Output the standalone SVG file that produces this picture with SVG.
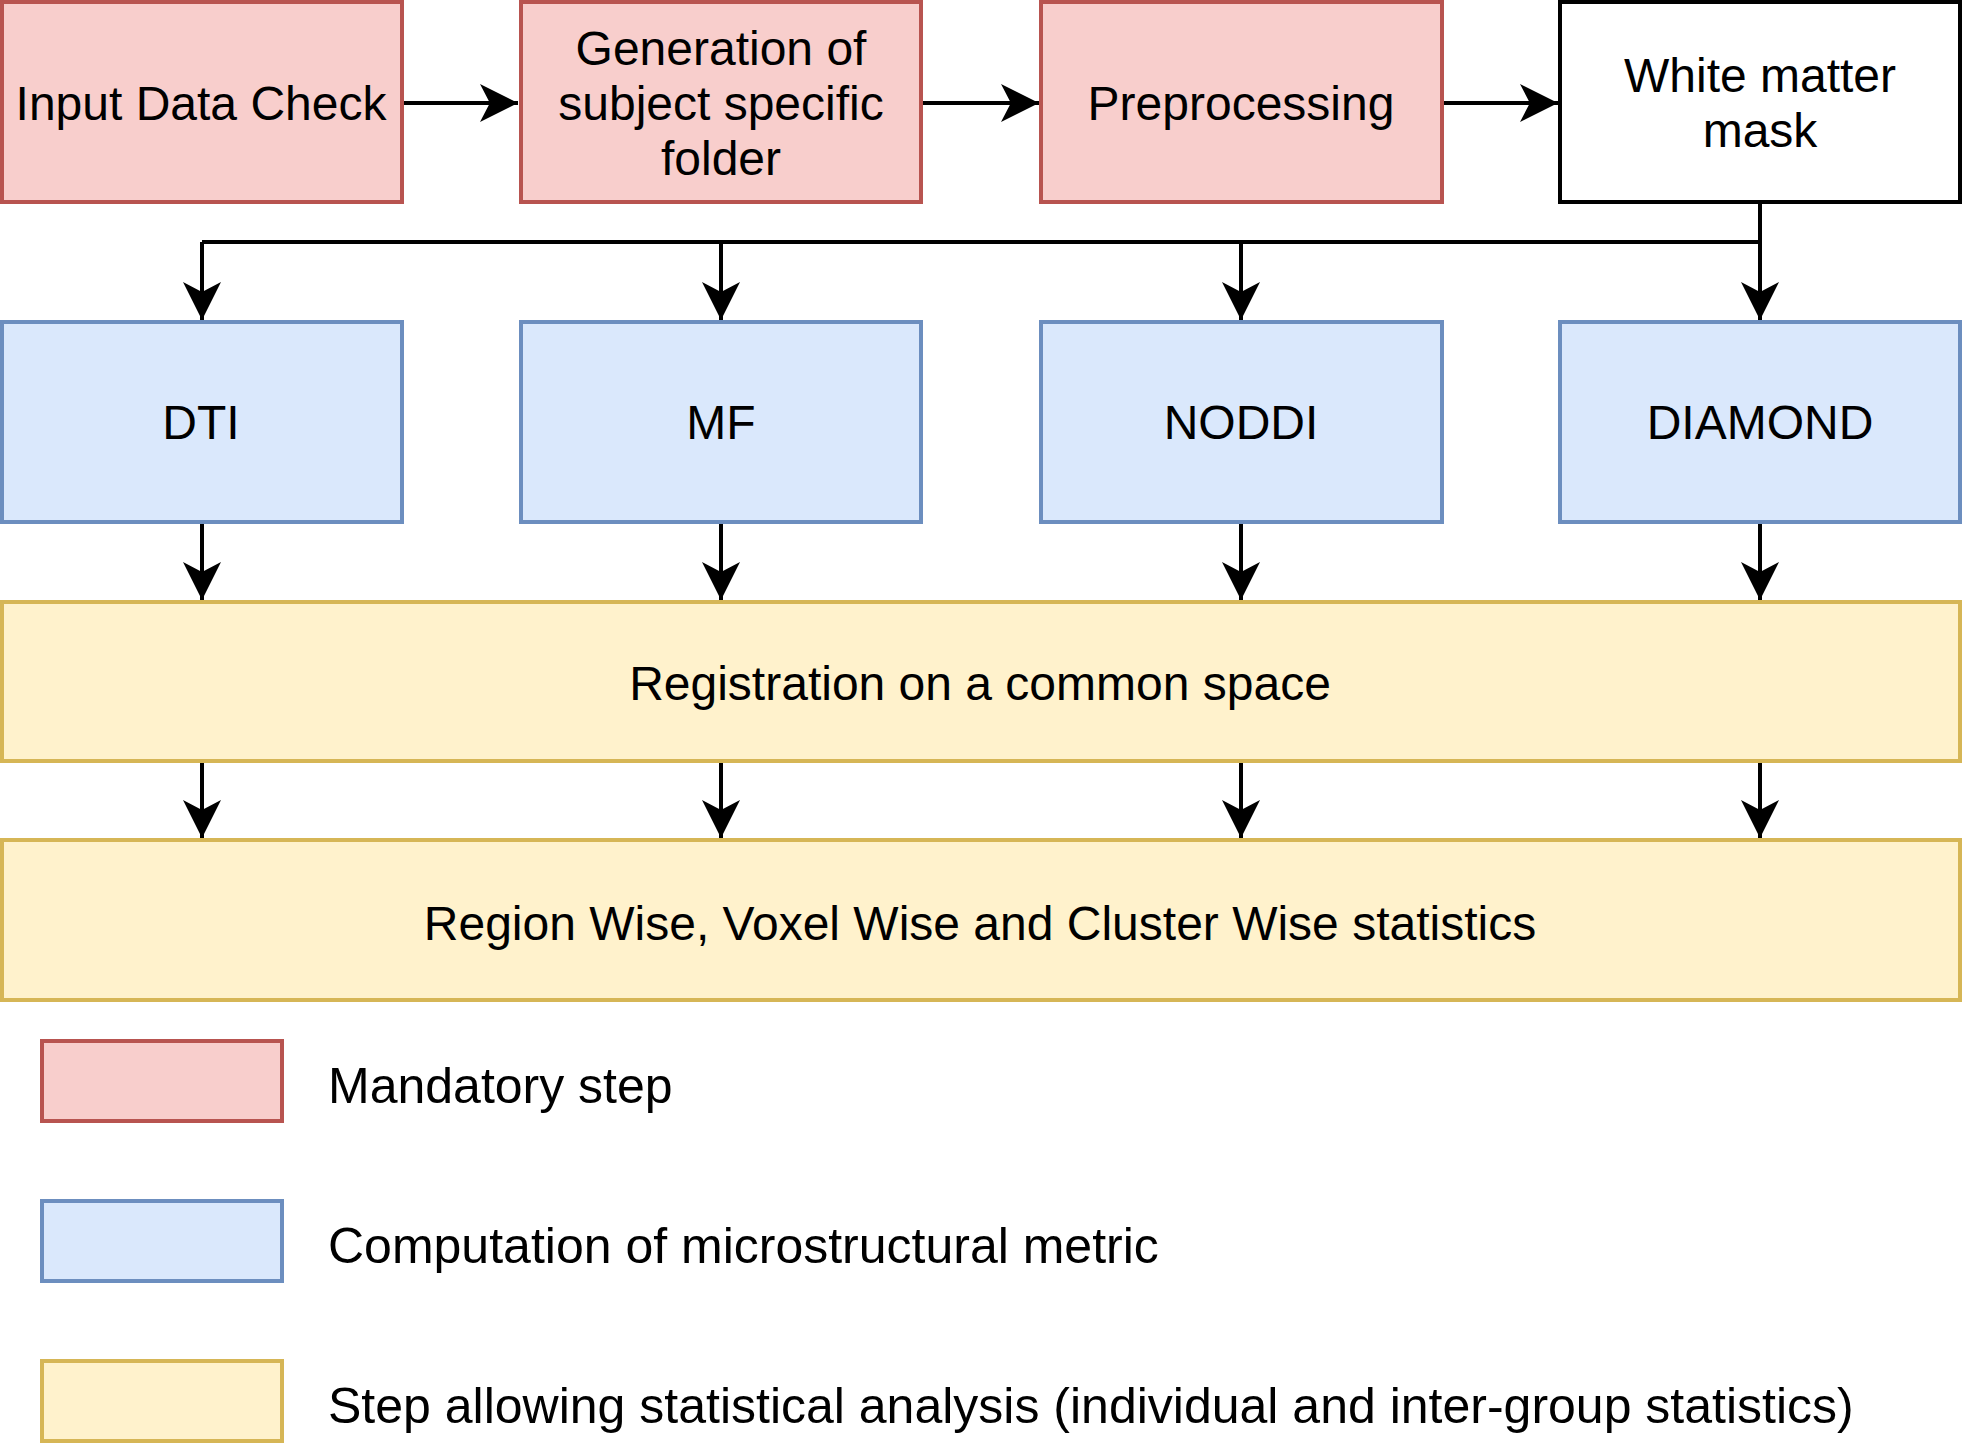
<svg xmlns="http://www.w3.org/2000/svg" width="1966" height="1451" viewBox="0 0 1966 1451">
<defs>
<marker id="arr" viewBox="0 0 10 10" refX="10" refY="5" markerWidth="9.5" markerHeight="9.5" markerUnits="strokeWidth" orient="auto">
<path d="M0,0 L10,5 L0,10 L2.6,5 Z" fill="#000"/>
</marker>
<style>
.red{fill:#f8cecc;stroke:#b85450;stroke-width:4}
.blue{fill:#dae8fc;stroke:#6c8ebf;stroke-width:4}
.yel{fill:#fff2cc;stroke:#d6b656;stroke-width:4}
.wht{fill:#fff;stroke:#000;stroke-width:4}
text{font-family:"Liberation Sans",Arial,sans-serif;font-size:48px;fill:#000}
.c{text-anchor:middle}
.lg{font-size:50px}
.e{fill:none;stroke:#000;stroke-width:4}
</style>
</defs>
<rect width="1966" height="1451" fill="#fff"/>
<g id="connectors">
<path class="e" d="M402,103 L518,103" marker-end="url(#arr)"/>
<path class="e" d="M921,103 L1039,103" marker-end="url(#arr)"/>
<path class="e" d="M1442,103 L1558,103" marker-end="url(#arr)"/>
<path class="e" d="M1760,202 L1760,242 L202,242"/>
<path class="e" d="M202,242 L202,320" marker-end="url(#arr)"/>
<path class="e" d="M721,242 L721,320" marker-end="url(#arr)"/>
<path class="e" d="M1241,242 L1241,320" marker-end="url(#arr)"/>
<path class="e" d="M1760,242 L1760,320" marker-end="url(#arr)"/>
<path class="e" d="M202,522 L202,600" marker-end="url(#arr)"/>
<path class="e" d="M721,522 L721,600" marker-end="url(#arr)"/>
<path class="e" d="M1241,522 L1241,600" marker-end="url(#arr)"/>
<path class="e" d="M1760,522 L1760,600" marker-end="url(#arr)"/>
<path class="e" d="M202,761 L202,838" marker-end="url(#arr)"/>
<path class="e" d="M721,761 L721,838" marker-end="url(#arr)"/>
<path class="e" d="M1241,761 L1241,838" marker-end="url(#arr)"/>
<path class="e" d="M1760,761 L1760,838" marker-end="url(#arr)"/>
</g>
<g id="input"><rect class="red" x="2" y="2" width="400" height="200"/><text class="c" x="201" y="120">Input Data Check</text></g>
<g id="generation"><rect class="red" x="521" y="2" width="400" height="200"/><text class="c" x="721" y="65">Generation of</text><text class="c" x="721" y="120">subject specific</text><text class="c" x="721" y="175">folder</text></g>
<g id="preprocessing"><rect class="red" x="1041" y="2" width="401" height="200"/><text class="c" x="1241" y="120">Preprocessing</text></g>
<g id="wm"><rect class="wht" x="1560" y="2" width="400" height="200"/><text class="c" x="1760" y="92">White matter</text><text class="c" x="1760" y="147">mask</text></g>
<g id="dti"><rect class="blue" x="2" y="322" width="400" height="200"/><text class="c" x="201" y="439">DTI</text></g>
<g id="mf"><rect class="blue" x="521" y="322" width="400" height="200"/><text class="c" x="721" y="439">MF</text></g>
<g id="noddi"><rect class="blue" x="1041" y="322" width="401" height="200"/><text class="c" x="1241" y="439">NODDI</text></g>
<g id="diamond"><rect class="blue" x="1560" y="322" width="400" height="200"/><text class="c" x="1760" y="439">DIAMOND</text></g>
<g id="registration"><rect class="yel" x="2" y="602" width="1958" height="159"/><text class="c" x="980" y="700">Registration on a common space</text></g>
<g id="statistics"><rect class="yel" x="2" y="840" width="1958" height="160"/><text class="c" x="980" y="940">Region Wise, Voxel Wise and Cluster Wise statistics</text></g>
<g id="legend-mandatory"><rect class="red" x="42" y="1041" width="240" height="80"/><text class="lg" x="328" y="1103">Mandatory step</text></g>
<g id="legend-computation"><rect class="blue" x="42" y="1201" width="240" height="80"/><text class="lg" x="328" y="1263">Computation of microstructural metric</text></g>
<g id="legend-step"><rect class="yel" x="42" y="1361" width="240" height="80"/><text class="lg" x="328" y="1423">Step allowing statistical analysis (individual and inter-group statistics)</text></g>
</svg>
